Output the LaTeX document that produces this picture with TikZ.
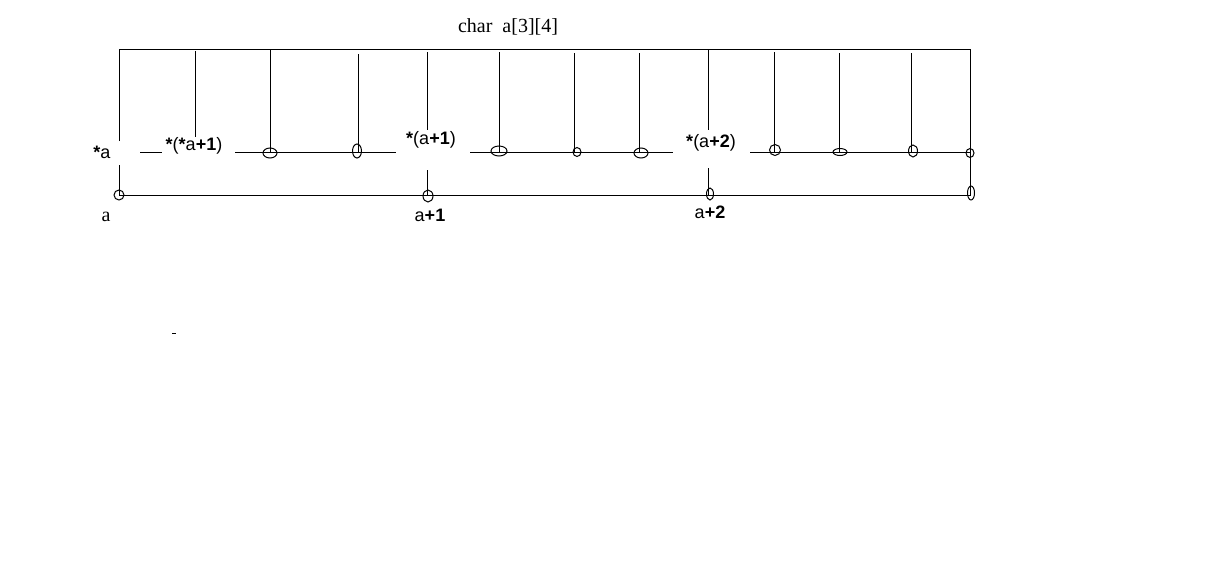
\documentclass[tikz,border=0pt]{standalone}
\usepackage{fontspec}
\setmainfont{Liberation Serif}
\setsansfont{Liberation Sans}
\usepackage{tikz}
\def\rowy{152}
\def\bd#1{\textbf{#1}}

\begin{document}
\begin{tikzpicture}[x=1pt,y=-1pt,line width=1pt,
  lbl/.style={font=\sffamily\fontsize{18}{18}\selectfont,inner sep=1pt},
  ttl/.style={font=\rmfamily\fontsize{20}{20}\selectfont,inner sep=1pt}]
			\useasboundingbox (0,0) rectangle (1231,581);
			% labels
			\node[ttl] (title) at (508,27) {char\ \ a[3][4]};
			\node[lbl] (pa) at (102,152) {\bd{*}a};
			\node[lbl] (paa) at (194,146) {\bd{*}(\bd{*}a\bd{+1})};
			\node[lbl] (pb) at (431,140) {\bd{*}(a\bd{+1})};
			\node[lbl] (pc) at (711,143) {\bd{*}(a\bd{+2})};
			\node[ttl] (adr) at (106,217) {a};
			\node[lbl] (adra) at (430,215) {a\bd{+1}};
			\node[lbl] (adrb) at (710,212) {a\bd{+2}};
			% frame
			\draw (119,141) -- (119,49) -- (970,49) -- (970,195) -- (119,195) -- (119,165);
			% middle row
			\draw (140,\rowy) -- (162,\rowy);
			\draw (235,\rowy) -- (396,\rowy);
			\draw (470,\rowy) -- (673,\rowy);
			\draw (750,\rowy) -- (970,\rowy);
			% verticals
			\foreach \x/\y in {270/49,358/54,499/52,574/53,639/53,774/52,839/53,911/53}
				\draw (\x,\y) -- (\x,\rowy);
			\draw (195,51) -- (195,137);
			\draw (427,52) -- (427,130);
			\draw (427,170) -- (427,195);
			\draw (708,49) -- (708,130);
			\draw (708,168) -- (708,195);
			% little rings
			\foreach \x/\y/\a/\b in {270/153/7/5,357/151/4.5/7,499/151/8/5,577/152/4/4.5,641/153/7/5,775/150/5.5/5.5,840/152/7/3.5,913/151/4.5/6,970/153/4/4.5,119/195/5/5,428/196/5/6,710/194/3.5/6,971/193/3.5/7}
				\draw (\x,\y) ellipse ({\a} and {\b});
			\draw (172,333) -- (176,333);
		\end{tikzpicture}
\end{document}
